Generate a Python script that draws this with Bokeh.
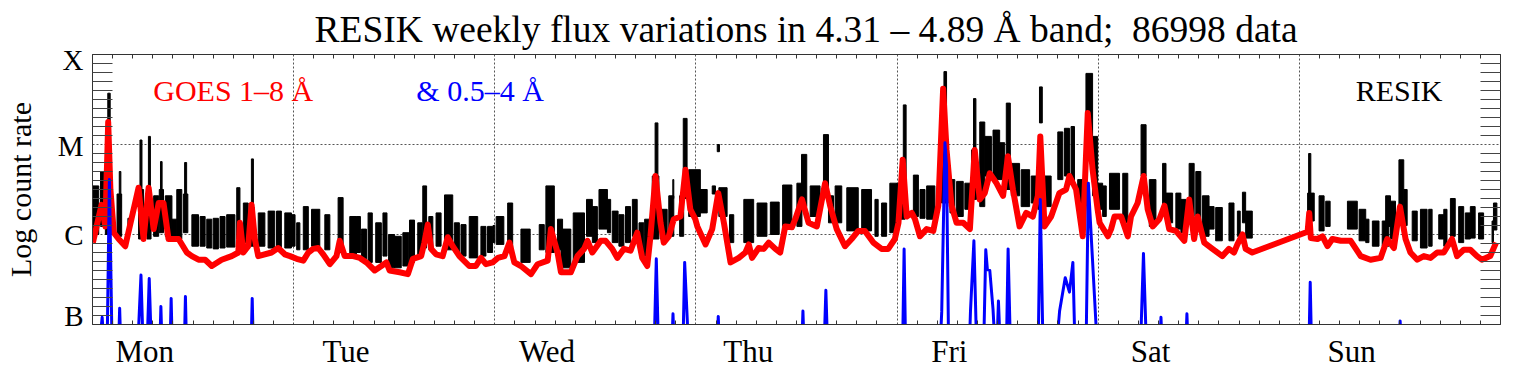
from bokeh.plotting import figure
from bokeh.models import Range1d, FixedTicker, LinearAxis, Label
from bokeh.embed import file_html
from bokeh.resources import INLINE

# ---------------- data ----------------
days = ["Mon", "Tue", "Wed", "Thu", "Fri", "Sat", "Sun"]
level_names = ["B", "C", "M", "X"]          # log levels 0..3

# GOES 1-8 A (log level units), time in days from Monday 00:00
goes_long_t = [0.002, 0.045, 0.064, 0.078, 0.089, 0.106, 0.130, 0.163, 0.229, 0.254, 0.279, 0.304, 0.329, 0.353,
               0.378, 0.428, 0.469, 0.494, 0.527, 0.560, 0.593, 0.642, 0.692, 0.725, 0.733, 0.750, 0.774, 0.791,
               0.807, 0.824, 0.890, 0.923, 0.956,
               0.982, 1.015, 1.048, 1.073, 1.097, 1.122, 1.147, 1.180, 1.213, 1.229, 1.254, 1.296, 1.329, 1.362,
               1.403, 1.436, 1.461, 1.477, 1.527, 1.568, 1.593, 1.634, 1.650, 1.667, 1.684, 1.708, 1.741, 1.766,
               1.791, 1.824, 1.873, 1.906, 1.931, 1.956, 1.989,
               2.015, 2.048, 2.073, 2.097, 2.130, 2.180, 2.213, 2.263, 2.279, 2.312, 2.329, 2.378, 2.411, 2.444,
               2.461, 2.485, 2.527, 2.551, 2.584, 2.609, 2.642, 2.675, 2.708, 2.733, 2.758, 2.774, 2.799, 2.824,
               2.840, 2.865, 2.890, 2.923, 2.948, 2.972, 2.997,
               3.007, 3.048, 3.081, 3.111, 3.139, 3.172, 3.213, 3.246, 3.263, 3.279, 3.312, 3.337, 3.362, 3.395,
               3.419, 3.444, 3.477, 3.494, 3.527, 3.560, 3.601, 3.642, 3.667, 3.700, 3.741, 3.774, 3.807, 3.840,
               3.882, 3.923, 3.956, 3.989,
               4.007, 4.028, 4.048, 4.073, 4.089, 4.114, 4.147, 4.180, 4.205, 4.229, 4.246, 4.271, 4.296, 4.329,
               4.362, 4.386, 4.411, 4.436, 4.461, 4.494, 4.527, 4.551, 4.576, 4.609, 4.642, 4.675, 4.700, 4.712,
               4.733, 4.766, 4.807, 4.840, 4.857, 4.890, 4.923, 4.948, 4.972, 4.997,
               5.007, 5.048, 5.064, 5.081, 5.114, 5.147, 5.163, 5.196, 5.226, 5.246, 5.271, 5.304, 5.329, 5.353,
               5.386, 5.428, 5.452, 5.477, 5.494, 5.527, 5.568, 5.617, 5.650, 5.675, 5.692, 5.717, 5.733, 5.766,
               6.041, 6.049, 6.057, 6.090, 6.115, 6.140, 6.164, 6.206, 6.255, 6.305, 6.354, 6.404, 6.437, 6.470,
               6.500, 6.528, 6.552, 6.586, 6.619, 6.652, 6.685, 6.718, 6.759, 6.784, 6.817, 6.850, 6.883, 6.907,
               6.949, 6.978]
goes_long_y = [0.91, 1.33, 1.09, 2.25, 1.50, 1.02, 0.95, 0.87, 1.52, 0.95, 1.52, 1.06, 1.35, 1.35,
               0.95, 0.95, 0.80, 0.76, 0.72, 0.72, 0.65, 0.72, 0.76, 0.80, 1.13, 0.80, 0.87, 1.33,
               0.95, 0.76, 0.80, 0.85, 0.78,
               0.76, 0.73, 0.71, 0.80, 0.84, 0.85, 0.78, 0.67, 0.76, 0.93, 0.76, 0.76, 0.74, 0.69,
               0.60, 0.65, 0.69, 0.60, 0.58, 0.56, 0.73, 0.76, 0.91, 1.11, 0.84, 0.78, 0.76, 0.97,
               0.87, 0.76, 0.65, 0.65, 0.74, 0.67, 0.69,
               0.74, 0.76, 0.91, 0.69, 0.65, 0.56, 0.67, 0.71, 1.06, 0.80, 0.58, 0.58, 0.76, 0.84,
               0.93, 0.80, 0.93, 0.93, 0.84, 0.74, 0.84, 0.82, 1.02, 0.74, 0.65, 0.98, 1.65, 1.13,
               0.91, 0.98, 1.17, 1.20, 1.72, 1.28, 1.17,
               1.09, 0.89, 1.06, 1.46, 1.13, 0.69, 0.74, 0.80, 0.89, 0.74, 0.85, 0.84, 0.91, 0.84,
               0.80, 1.09, 1.08, 1.17, 1.39, 1.13, 1.09, 1.57, 1.32, 1.06, 0.87, 0.95, 1.04, 1.04,
               0.91, 0.84, 0.84, 0.95,
               1.13, 1.83, 1.20, 1.24, 1.17, 0.98, 1.06, 1.04, 1.32, 2.62, 1.94, 1.32, 1.13, 1.13,
               1.06, 1.94, 1.39, 1.46, 1.68, 1.57, 1.43, 1.87, 1.50, 1.09, 1.24, 1.20, 1.43, 2.09,
               1.09, 1.20, 1.46, 1.50, 1.65, 1.50, 0.98, 2.35, 1.72, 1.28,
               1.13, 0.98, 1.06, 1.20, 1.20, 0.98, 1.20, 1.35, 1.65, 1.28, 1.09, 1.17, 1.32, 1.06,
               1.04, 0.93, 1.39, 0.95, 1.20, 0.91, 0.84, 0.76, 0.84, 0.80, 0.89, 1.00, 0.84, 0.80,
               1.03, 1.24, 0.96, 0.95, 0.98, 0.87, 0.95, 0.93, 0.93, 0.76, 0.72, 0.74, 0.95, 0.85,
               1.31, 0.95, 0.80, 0.72, 0.76, 0.74, 0.80, 0.80, 0.95, 0.76, 0.83, 0.83, 0.76, 0.72,
               0.76, 0.91]

# GOES 0.5-4 A (values below B level are off scale)
goes_short_t = [0.000, 0.036, 0.048, 0.056, 0.073, 0.084, 0.097, 0.130, 0.135, 0.140, 0.226, 0.241, 0.251,
                0.272, 0.282, 0.292, 0.335, 0.340, 0.345, 0.386, 0.391, 0.396, 0.457, 0.462, 0.467,
                0.789, 0.794, 0.799,
                2.793, 2.803, 2.813, 2.881, 2.886, 2.891, 2.936, 2.944, 2.962,
                3.106, 3.111, 3.116, 3.527, 3.532, 3.537, 3.638, 3.646, 3.654,
                4.028, 4.035, 4.042, 4.215, 4.222, 4.238, 4.246, 4.256, 4.360, 4.365, 4.382, 4.395,
                4.431, 4.441, 4.449, 4.461, 4.477, 4.486, 4.497, 4.504, 4.512, 4.544, 4.552, 4.563,
                4.702, 4.712, 4.725, 4.795, 4.808, 4.836, 4.857, 4.874, 4.884, 4.940, 4.951, 4.989, 5.000,
                5.211, 5.225, 5.239, 5.307, 5.312, 5.317, 5.436, 5.441, 5.446,
                6.048, 6.054, 6.060, 6.496, 6.501, 6.506, 7.000]
goes_short_y = [-0.2, -0.2, 0.08, -0.2, -0.2, 1.61, -0.2, -0.2, 0.18, -0.2, -0.2, 0.55, -0.2,
                -0.2, 0.51, -0.2, -0.2, 0.20, -0.2, -0.2, 0.29, -0.2, -0.2, 0.31, -0.2,
                -0.2, 0.29, -0.2,
                -0.2, 0.73, -0.2, -0.2, 0.12, -0.2, -0.2, 0.69, -0.2,
                -0.2, 0.09, -0.2, -0.2, 0.15, -0.2, -0.2, 0.38, -0.2,
                -0.2, 0.84, -0.2, -0.2, 0.14, 2.02, 1.76, -0.2, -0.2, 0.15, 0.93, -0.2,
                -0.2, 0.83, 0.61, 0.60, 0.17, -0.2, -0.2, 0.26, -0.2, -0.2, 0.84, -0.2,
                -0.2, 1.39, -0.2, -0.2, 0.15, 0.52, 0.36, 0.69, -0.2, -0.2, 1.57, 0.00, -0.2,
                -0.2, 0.79, -0.2, -0.2, 0.08, -0.2, -0.2, 0.12, -0.2,
                -0.2, 0.47, -0.2, -0.2, 0.04, -0.2, -0.2]

# RESIK 4.31-4.89 A observation blocks (one per orbit pass): start, end, min and max log level
resik_t0 = [0.002, 0.040, 0.064, 0.076, 0.122, 0.133, 0.176, 0.229, 0.236, 0.271, 0.278, 0.304, 0.332, 0.338,
            0.362, 0.395, 0.419, 0.452, 0.458, 0.494, 0.535, 0.568, 0.600, 0.634, 0.667, 0.717, 0.750, 0.783,
            0.790, 0.824, 0.873, 0.915, 0.956,
            0.982, 1.015, 1.048, 1.089, 1.155, 1.221, 1.279, 1.312, 1.337, 1.370, 1.408, 1.444, 1.472, 1.502,
            1.543, 1.576, 1.617, 1.642, 1.672, 1.708, 1.750, 1.799, 1.832, 1.873, 1.931, 1.964,
            1.991, 2.007, 2.064, 2.130, 2.221, 2.254, 2.312, 2.329, 2.390, 2.456, 2.485, 2.518, 2.560, 2.584,
            2.617, 2.650, 2.684, 2.717, 2.745, 2.783, 2.797, 2.824, 2.865, 2.885, 2.919, 2.937, 2.964,
            3.015, 3.081, 3.106, 3.114, 3.167, 3.238, 3.304, 3.370, 3.431, 3.502, 3.525, 3.568, 3.634, 3.659,
            3.692, 3.750, 3.824, 3.890, 3.923, 3.964,
            3.997, 4.015, 4.031, 4.081, 4.114, 4.147, 4.221, 4.233, 4.263, 4.296, 4.337, 4.370, 4.380, 4.411,
            4.436, 4.477, 4.510, 4.543, 4.568, 4.617, 4.667, 4.700, 4.708, 4.733, 4.799, 4.832, 4.865, 4.898,
            4.939, 4.972, 4.997,
            5.022, 5.056, 5.122, 5.213, 5.254, 5.320, 5.337, 5.386, 5.411, 5.452, 5.485, 5.518, 5.551, 5.584,
            5.650, 5.692, 5.717, 5.733,
            6.041, 6.046, 6.098, 6.131, 6.239, 6.297, 6.330, 6.363, 6.412, 6.429, 6.453, 6.495, 6.519, 6.561,
            6.602, 6.643, 6.693, 6.718, 6.751, 6.792, 6.825, 6.850, 6.891, 6.958, 6.965]
resik_t1 = [0.031, 0.056, 0.095, 0.088, 0.145, 0.141, 0.182, 0.254, 0.246, 0.291, 0.288, 0.329, 0.353, 0.346,
            0.395, 0.419, 0.444, 0.474, 0.468, 0.527, 0.560, 0.593, 0.626, 0.659, 0.708, 0.733, 0.774, 0.804,
            0.800, 0.857, 0.906, 0.939, 0.989,
            1.007, 1.031, 1.073, 1.130, 1.180, 1.246, 1.312, 1.332, 1.362, 1.391, 1.436, 1.464, 1.502, 1.535,
            1.573, 1.601, 1.639, 1.661, 1.692, 1.733, 1.791, 1.824, 1.857, 1.915, 1.956, 1.989,
            2.000, 2.045, 2.089, 2.176, 2.246, 2.296, 2.337, 2.378, 2.446, 2.485, 2.510, 2.560, 2.576, 2.613,
            2.642, 2.675, 2.708, 2.741, 2.771, 2.816, 2.811, 2.857, 2.890, 2.890, 2.939, 2.956, 3.022,
            3.056, 3.097, 3.117, 3.155, 3.188, 3.287, 3.353, 3.414, 3.477, 3.527, 3.551, 3.617, 3.659, 3.684,
            3.725, 3.807, 3.873, 3.906, 3.948, 3.997,
            4.010, 4.040, 4.045, 4.106, 4.139, 4.188, 4.254, 4.246, 4.287, 4.329, 4.370, 4.395, 4.392, 4.436,
            4.469, 4.510, 4.535, 4.563, 4.609, 4.659, 4.700, 4.725, 4.722, 4.766, 4.824, 4.857, 4.882, 4.923,
            4.972, 4.997, 5.022,
            5.040, 5.106, 5.147, 5.238, 5.287, 5.337, 5.370, 5.411, 5.436, 5.477, 5.510, 5.551, 5.576, 5.617,
            5.675, 5.706, 5.733, 5.766,
            6.074, 6.057, 6.123, 6.153, 6.288, 6.330, 6.346, 6.396, 6.445, 6.453, 6.478, 6.519, 6.536, 6.586,
            6.635, 6.660, 6.718, 6.734, 6.775, 6.817, 6.850, 6.874, 6.916, 6.965, 6.982]
resik_lo = [1.00, 1.09, 1.00, 1.50, 0.98, 1.30, 1.09, 0.95, 1.30, 0.95, 1.30, 0.98, 1.02, 1.30,
            0.98, 0.95, 0.95, 1.02, 1.30, 0.87, 0.87, 0.85, 0.84, 0.85, 0.86, 0.95, 0.91, 0.87,
            1.10, 0.87, 0.85, 0.83, 0.85,
            0.87, 0.83, 0.83, 0.87, 0.83, 0.80, 0.76, 0.80, 0.73, 0.69, 0.69, 0.76, 0.63, 0.63,
            0.65, 0.69, 0.76, 0.85, 0.83, 0.87, 0.83, 0.80, 0.76, 0.74, 0.76, 0.80,
            0.91, 0.89, 0.83, 0.69, 0.83, 0.80, 0.83, 0.63, 0.69, 0.98, 0.91, 1.06, 1.02, 0.91,
            0.87, 0.91, 0.98, 0.80, 0.76, 0.95, 1.40, 0.95, 0.98, 1.40, 0.98, 1.40, 1.20,
            1.24, 1.45, 1.92, 1.20, 0.91, 0.91, 0.98, 1.00, 1.09, 1.09, 1.31, 1.20, 1.46, 1.13,
            1.13, 1.04, 1.04, 0.98, 0.98, 1.02,
            1.28, 1.17, 1.40, 1.20, 1.18, 1.17, 1.35, 2.00, 1.24, 1.20, 1.28, 1.39, 1.90, 1.31,
            1.65, 1.61, 1.61, 1.50, 1.43, 1.31, 1.35, 1.28, 2.24, 1.31, 1.61, 1.65, 1.57, 1.20,
            1.83, 1.43, 1.28,
            1.20, 1.28, 1.13, 1.65, 1.09, 1.28, 1.13, 1.06, 1.02, 1.20, 1.13, 0.98, 1.06, 0.93,
            0.93, 0.98, 1.13, 0.96,
            1.15, 1.40, 1.04, 1.09, 1.06, 0.93, 0.91, 0.87, 0.87, 1.09, 0.95, 1.15, 1.10, 0.93,
            0.85, 0.87, 0.95, 0.87, 0.98, 0.91, 0.95, 0.96, 0.95, 0.91, 1.05]
resik_hi = [1.54, 1.70, 1.55, 2.57, 1.45, 1.70, 1.18, 1.50, 2.05, 1.45, 2.09, 1.43, 1.50, 1.81,
            1.43, 1.17, 1.50, 1.45, 1.80, 1.22, 1.20, 1.17, 1.18, 1.20, 1.22, 1.52, 1.35, 1.30,
            1.84, 1.24, 1.26, 1.26, 1.24,
            1.22, 1.13, 1.31, 1.28, 1.22, 1.41, 1.20, 1.20, 1.06, 1.24, 1.13, 1.24, 1.00, 0.98,
            1.02, 1.16, 1.13, 1.54, 1.20, 1.24, 1.44, 1.13, 1.11, 1.20, 1.09, 1.09,
            1.10, 1.20, 1.35, 1.06, 1.11, 1.54, 1.17, 1.06, 1.24, 1.39, 1.31, 1.50, 1.39, 1.26,
            1.22, 1.31, 1.39, 1.13, 1.17, 1.65, 2.24, 1.28, 1.43, 1.61, 1.43, 2.29, 1.72,
            1.50, 1.54, 2.00, 1.52, 1.22, 1.39, 1.35, 1.36, 1.55, 1.57, 1.89, 1.54, 2.11, 1.43,
            1.54, 1.52, 1.50, 1.39, 1.35, 1.57,
            1.57, 1.43, 2.44, 1.66, 1.50, 1.54, 2.05, 2.81, 1.61, 1.59, 1.57, 1.94, 2.51, 2.25,
            2.09, 2.16, 2.02, 2.46, 1.79, 1.72, 1.65, 1.65, 2.64, 1.65, 2.14, 2.18, 2.20, 1.61,
            2.79, 2.09, 1.57,
            1.54, 1.68, 1.68, 2.22, 1.61, 1.79, 1.46, 1.46, 1.39, 1.79, 1.70, 1.43, 1.31, 1.30,
            1.35, 1.26, 1.47, 1.26,
            1.46, 1.90, 1.43, 1.37, 1.37, 1.28, 1.17, 1.15, 1.15, 1.43, 1.37, 1.83, 1.50, 1.26,
            1.28, 1.28, 1.22, 1.28, 1.40, 1.31, 1.24, 1.31, 1.24, 1.15, 1.35]

title_text = "RESIK weekly flux variations in 4.31 \u2013 4.89 \u00c5 band;\u00a0 86998 data"

# ---------------- style ----------------
SERIF = "Liberation Serif"
GRID = "#555555"
day_label_offset = 0.26
level_label_shift = [0.09, -0.01, -0.02, -0.06]

p = figure(width=1516, height=371, output_backend="svg", toolbar_location=None,
           x_range=Range1d(0, 7), y_range=Range1d(0, 3),
           min_border_left=87, min_border_right=16, min_border_top=54, min_border_bottom=46)
p.background_fill_color = "white"
p.border_fill_color = "white"
p.outline_line_color = "#333333"

p.title.text = title_text
p.title.align = "left"
p.title.offset = 222
p.title.text_font = SERIF
p.title.text_font_size = "37.5px"
p.title.text_font_style = "normal"
p.title.text_color = "black"
p.title.standoff = 10

# bottom axis: day names + 0.1-day minor ticks
x_minor = [k / 10 for k in range(1, 70) if k % 10 != 0]
day_ticks = [i + day_label_offset for i in range(len(days))]
xa = p.xaxis[0]
xa.ticker = FixedTicker(ticks=day_ticks, minor_ticks=x_minor)
xa.major_label_overrides = {t: d for t, d in zip(day_ticks, days)}
xa.major_tick_in = 0
xa.major_tick_out = 0
xa.minor_tick_in = 4
xa.minor_tick_out = 0
xa.minor_tick_line_color = "#333333"
xa.axis_line_color = "#333333"
xa.major_label_standoff = 9
xa.major_label_text_font = SERIF
xa.major_label_text_font_size = "31px"
xa.major_label_text_color = "black"

# left axis: flare levels
y_minor = [k / 10 for k in range(1, 30) if k % 10 != 0]
lvl_ticks = [i + s for i, s in enumerate(level_label_shift)]
ya = p.yaxis[0]
ya.ticker = FixedTicker(ticks=lvl_ticks, minor_ticks=y_minor)
ya.major_label_overrides = {t: n for t, n in zip(lvl_ticks, level_names)}
ya.major_tick_in = 0
ya.major_tick_out = 0
ya.minor_tick_in = 20
ya.minor_tick_out = 0
ya.minor_tick_line_color = "#444444"
ya.axis_line_color = "#333333"
ya.major_label_standoff = 9
ya.major_label_text_font = SERIF
ya.major_label_text_font_size = "29px"
ya.major_label_text_color = "black"
ya.axis_label = "Log count rate"
ya.axis_label_text_font = SERIF
ya.axis_label_text_font_size = "30px"
ya.axis_label_text_font_style = "normal"
ya.axis_label_text_color = "black"
ya.axis_label_standoff = 18

# right and top axes: ticks only
ra = LinearAxis(ticker=FixedTicker(ticks=[], minor_ticks=y_minor), major_tick_in=0, major_tick_out=0,
                minor_tick_in=20, minor_tick_out=0, minor_tick_line_color="#444444",
                axis_line_color="#333333", major_label_standoff=0)
p.add_layout(ra, "right")
ta = LinearAxis(ticker=FixedTicker(ticks=[], minor_ticks=x_minor), major_tick_in=0, major_tick_out=0,
                minor_tick_in=4, minor_tick_out=0, minor_tick_line_color="#333333",
                axis_line_color="#333333", major_label_standoff=0)
p.add_layout(ta, "above")

# dotted grid at day boundaries and C, M levels
p.xgrid.ticker = FixedTicker(ticks=list(range(1, 7)))
p.ygrid.ticker = FixedTicker(ticks=[1, 2])
p.grid.grid_line_color = GRID
p.grid.grid_line_dash = "2 2"
p.grid.grid_line_width = 1
p.grid.grid_line_alpha = 1.0

# data
p.quad(left=resik_t0, right=resik_t1, bottom=resik_lo, top=resik_hi,
       fill_color="black", line_color="black", line_width=1)
p.line(goes_long_t, goes_long_y, line_color="#ff0000", line_width=6, line_join="round")
p.line(goes_short_t, goes_short_y, line_color="#0000ff", line_width=3, line_join="round")

# in-plot legend texts
for x, txt, col in [(0.302, "GOES 1\u20138 \u00c5", "#ff0000"),
                    (1.610, "& 0.5\u20134 \u00c5", "#0000ff"),
                    (6.280, "RESIK", "black")]:
    p.add_layout(Label(x=x, y=2.60, text=txt, text_font=SERIF, text_font_size="30px",
                       text_color=col, text_baseline="alphabetic"))

open("out.html", "w").write(file_html(p, INLINE))
